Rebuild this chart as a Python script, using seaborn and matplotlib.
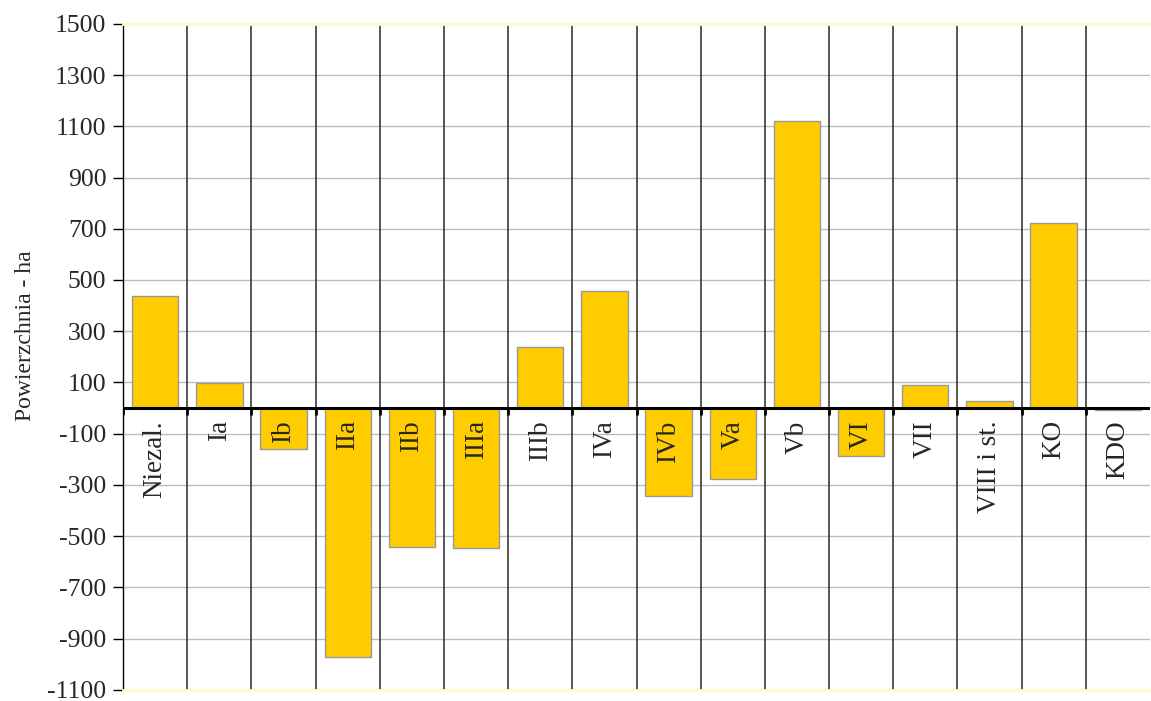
import pandas as pd
import seaborn as sns
import matplotlib.pyplot as plt

categories = ['Niezal.', 'Ia', 'Ib', 'IIa', 'IIb', 'IIIa', 'IIIb', 'IVa', 'IVb', 'Va',
              'Vb', 'VI', 'VII', 'VIII i st.', 'KO', 'KDO']
values = [437, 97, -158, -973, -542, -548, 238, 456, -342, -277,
          1122, -187, 89, 27, 724, -8]
yticks = list(range(-1100, 1501, 200))

df = pd.DataFrame({'kat': categories, 'ha': values})

sns.set_style('white')
plt.rcParams['font.family'] = ['Liberation Serif', 'DejaVu Serif']

fig, ax = plt.subplots(figsize=(11.51, 7.01), dpi=100)
fig.subplots_adjust(left=0.107, right=0.999, top=0.966, bottom=0.016)

for y in yticks:
    ax.axhline(y, color='#bdbdbd', lw=1.0, zorder=0)

sns.barplot(data=df, x='kat', y='ha', color='#FFCC00', saturation=1, width=0.72,
            edgecolor='#999999', linewidth=1, ax=ax, zorder=2)

n = len(categories)
for i in range(n - 1):
    ax.axvline(i + 0.5, color='#2a2a2a', lw=1.1, zorder=1)
ax.axhline(0, color='black', lw=2.2, zorder=3)
for i in range(n):
    ax.plot([i - 0.5, i - 0.5], [0, -22], color='black', lw=2, zorder=3)
    ax.text(i, -48, categories[i], rotation=90, ha='center', va='top', fontsize=19.5, zorder=4)

ax.set_xlim(-0.5, n - 0.5)
ax.set_ylim(-1100, 1500)
ax.set_yticks(yticks)
ax.set_yticklabels([str(t) for t in yticks], fontsize=18.5)
ax.set_xticks([])
ax.set_xlabel('')
ax.set_ylabel('Powierzchnia - ha', fontsize=17)
ax.yaxis.set_label_coords(-0.085, 0.532)
ax.tick_params(axis='y', direction='out', length=7, width=1, color='black', left=True, pad=5)

for side in ['top', 'bottom']:
    ax.spines[side].set_color('#FFFACD')
    ax.spines[side].set_linewidth(2)
ax.spines['right'].set_visible(False)
ax.spines['left'].set_color('black')
ax.spines['left'].set_linewidth(1)

fig.savefig('out.png', dpi=100)
